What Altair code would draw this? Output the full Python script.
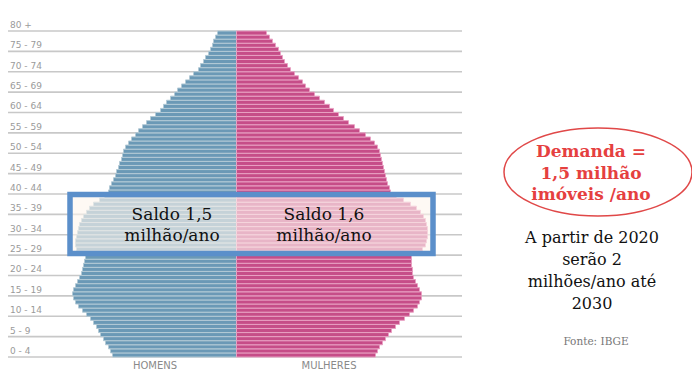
import altair as alt
import pandas as pd

# ---- data (arbitrary units) ----
ages = list(range(80))
homens = [124, 126, 128, 131, 133, 136, 138, 140, 143, 146,
          150, 154, 158, 161, 163, 164, 163, 161, 159, 157,
          155, 154, 153, 152, 151, 158, 160, 161, 161, 160,
          159, 158, 157, 155, 153, 150, 147, 143, 137, 132,
          128, 127, 125, 123, 121, 120, 118, 117, 115, 114,
          113, 111, 108, 105, 101, 98, 94, 90, 86, 81,
          76, 73, 70, 66, 62, 59, 55, 51, 47, 43,
          38, 36, 33, 31, 28, 26, 24, 23, 21, 19]
mulheres = [139, 141, 143, 146, 149, 152, 155, 159, 163, 168,
            173, 177, 181, 183, 185, 185, 183, 181, 179, 177,
            176, 176, 175, 175, 175, 183, 186, 189, 190, 191,
            191, 191, 190, 189, 187, 184, 180, 174, 167, 160,
            154, 153, 151, 150, 149, 148, 147, 146, 145, 144,
            143, 141, 138, 134, 129, 123, 118, 112, 107, 102,
            97, 93, 88, 83, 78, 73, 69, 66, 62, 58,
            54, 51, 48, 46, 44, 42, 39, 36, 33, 30]
group_starts = list(range(0, 85, 5))
group_labels = ["0 - 4", "5 - 9", "10 - 14", "15 - 19", "20 - 24", "25 - 29",
                "30 - 34", "35 - 39", "40 - 44", "45 - 49", "50 - 54", "55 - 59",
                "60 - 64", "65 - 69", "70 - 74", "75 - 79", "80 +"]
box_age = [25.4, 39.9]
box_val = [-166.5, 196.5]
saldo_texts = [["Saldo 1,5", "milhão/ano"], ["Saldo 1,6", "milhão/ano"]]
saldo_x = [-64.5, 87.5]
saldo_y = [33.6, 28.5]
ellipse_lines = ["Demanda =", "1,5 milhão", "imóveis /ano"]
info_lines = ["A partir de 2020", "serão 2", "milhões/ano até", "2030"]
fonte = "Fonte:  IBGE"

W, H = 684, 362
xs = alt.Scale(domain=[-228.5, 455.5], nice=False, zero=False)
ys = alt.Scale(domain=[-3.19, 85.64], nice=False, zero=False)

rows = []
for a, m, f in zip(ages, homens, mulheres):
    rows.append({"age": a, "age2": a + 1, "x0": 0, "v": -m, "sex": "Homens"})
    rows.append({"age": a, "age2": a + 1, "x0": 0, "v": f, "sex": "Mulheres"})
bars_df = pd.DataFrame(rows)

grid_df = pd.DataFrame({"age": group_starts, "label": group_labels})

grid = alt.Chart(grid_df).mark_rule(color="#c8c8c8", strokeWidth=1.6).encode(
    x=alt.value(0), x2=alt.value(454),
    y=alt.Y("age:Q", scale=ys, axis=None))

labels = alt.Chart(grid_df).mark_text(
    align="left", baseline="alphabetic", dy=-3, font="DejaVu Sans",
    fontSize=9, color="#9a9a9a").encode(
    x=alt.value(2), y=alt.Y("age:Q", scale=ys, axis=None), text="label:N")

bars = alt.Chart(bars_df).mark_rect(strokeWidth=1).encode(
    x=alt.X("x0:Q", scale=xs, axis=None), x2="v:Q",
    y=alt.Y("age:Q", scale=ys, axis=None), y2="age2:Q",
    color=alt.Color("sex:N", scale=alt.Scale(domain=["Homens", "Mulheres"],
                    range=["#6b99b6", "#c64d88"]), legend=None),
    stroke=alt.Stroke("sex:N", scale=alt.Scale(domain=["Homens", "Mulheres"],
                      range=["#b3cad6", "#e8a0c2"]), legend=None))

box_df = pd.DataFrame({"x": [box_val[0]], "x2": [box_val[1]],
                       "y": [box_age[0]], "y2": [box_age[1]]})
box = alt.Chart(box_df).mark_rect(fill="#fdf5ee", fillOpacity=0.62,
                                  stroke="#5b8fca", strokeWidth=5.5).encode(
    x=alt.X("x:Q", scale=xs, axis=None), x2="x2:Q",
    y=alt.Y("y:Q", scale=ys, axis=None), y2="y2:Q")

srows = []
for (l1, l2), xv in zip(saldo_texts, saldo_x):
    srows.append({"x": xv, "y": saldo_y[0], "t": l1})
    srows.append({"x": xv, "y": saldo_y[1], "t": l2})
saldo = alt.Chart(pd.DataFrame(srows)).mark_text(
    align="center", baseline="alphabetic", font="DejaVu Serif",
    fontSize=17, color="#111111").encode(
    x=alt.X("x:Q", scale=xs, axis=None), y=alt.Y("y:Q", scale=ys, axis=None),
    text="t:N")

titles = alt.Chart(pd.DataFrame({"t": ["HOMENS", "MULHERES"],
                                 "px": [147, 321]})).mark_text(
    align="center", baseline="alphabetic", font="DejaVu Sans", fontSize=10,
    color="#8a8a8a").encode(x=alt.X("px:Q", scale=None), y=alt.value(361),
                            text="t:N")

ell_path = ("M -1 0 C -1 -0.2585 -0.5523 -0.468 0 -0.468 "
            "C 0.5523 -0.468 1 -0.2585 1 0 "
            "C 1 0.2585 0.5523 0.468 0 0.468 "
            "C -0.5523 0.468 -1 0.2585 -1 0 Z")
ellipse = alt.Chart(pd.DataFrame({"a": [1]})).mark_point(
    shape=ell_path, size=188 * 188, filled=False, stroke="#e04848",
    strokeWidth=1.5, opacity=1).encode(x=alt.value(590), y=alt.value(164))

ell_text = alt.Chart(pd.DataFrame({"t": ellipse_lines,
                                   "py": [149, 170.5, 192]})).mark_text(
    align="center", baseline="alphabetic", font="DejaVu Serif",
    fontWeight="bold", fontSize=17, color="#e5403f").encode(
    x=alt.value(583), y=alt.Y("py:Q", scale=None), text="t:N")

info = alt.Chart(pd.DataFrame({"t": info_lines,
                               "py": [234.5, 256.5, 278.5, 300.5]})).mark_text(
    align="center", baseline="alphabetic", font="DejaVu Serif",
    fontSize=16, color="#111111").encode(
    x=alt.value(584), y=alt.Y("py:Q", scale=None), text="t:N")

src = alt.Chart(pd.DataFrame({"t": [fonte]})).mark_text(
    align="center", baseline="alphabetic", font="DejaVu Serif",
    fontSize=10.5, color="#777777").encode(
    x=alt.value(588), y=alt.value(337), text="t:N")

chart = alt.layer(grid, labels, bars, box, saldo, titles, ellipse, ell_text,
                  info, src).properties(
    width=W, height=H, autosize=alt.AutoSizeParams(type="none"),
    padding=0).configure_view(strokeWidth=0)

chart.save("out.html", embed_options={"renderer": "svg", "actions": False})
